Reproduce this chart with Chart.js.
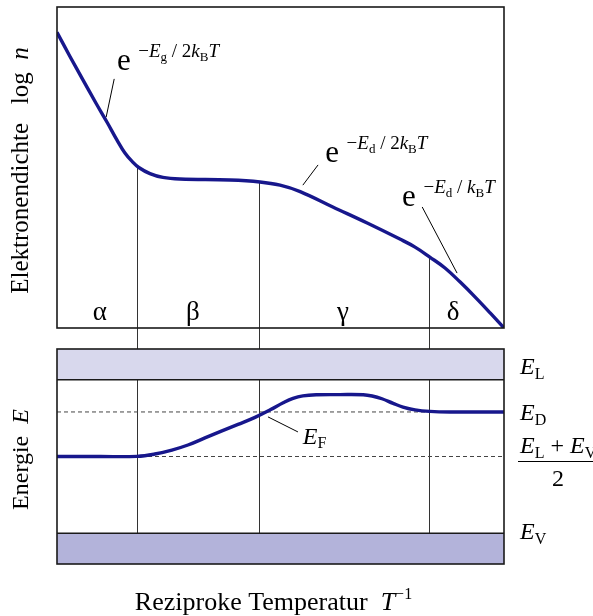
<!DOCTYPE html>
<html>
<head>
<meta charset="utf-8">
<script src="https://cdn.jsdelivr.net/npm/chart.js@4/dist/chart.umd.min.js"></script>
<style>
  html, body { margin: 0; padding: 0; background: #fff; }
  canvas { display: block; }
</style>
</head>
<body>
<canvas id="chart" width="593" height="616"></canvas>
<script>
// Reciprocal temperature T^-1 in arbitrary units (left = hot, right = cold)
const invTemp = [0, 0.29, 0.58, 0.87, 1.12, 1.34, 1.52, 1.68, 1.83, 2.08, 2.37, 2.75, 3.87,
                 4.54, 4.99, 5.44, 6.17, 6.94, 7.67, 8.01, 8.34, 8.68, 9.02, 9.35, 9.69, 10];
// log of the electron density (arbitrary units)
const logDensity = [9.21, 8.46, 7.73, 7.01, 6.41, 5.86, 5.45, 5.19, 5.00, 4.81, 4.69, 4.64, 4.61,
                    4.55, 4.45, 4.25, 3.77, 3.27, 2.77, 2.52, 2.21, 1.87, 1.43, 0.97, 0.47, 0.0];

// Fermi level position, energy in units of the gap (E_V = 0, E_L = 1)
const fermiInvTemp = [0, 0.96, 1.79, 2.19, 2.57, 2.93, 3.31, 3.69, 4.05, 4.43, 4.77, 5.06, 5.28,
                      5.50, 5.82, 6.33, 6.85, 7.05, 7.27, 7.52, 7.74, 8.01, 8.34, 8.79, 10];
const fermiEnergy = [0.50, 0.50, 0.501, 0.516, 0.542, 0.575, 0.621, 0.667, 0.709, 0.755, 0.804, 0.850, 0.879,
                     0.895, 0.902, 0.903, 0.902, 0.894, 0.876, 0.846, 0.822, 0.804, 0.794, 0.79, 0.79];

// Characteristic energies
const E_V = 0.0;
const E_L = 1.0;
const E_D = 0.79;
const E_MID = (E_L + E_V) / 2;

// Temperature regions
const regionBounds = [1.79, 4.52, 8.32];
const regionNames = ['α', 'β', 'γ', 'δ'];
const regionLabelX = [0.96, 3.04, 6.40, 8.86];

const X_MIN = 0, X_MAX = 10;

const NAVY = '#17178c';
const FRAME = '#1a1a1a';
const SERIF = '"Liberation Serif", "Times New Roman", serif';

const pts = (xs, ys) => xs.map((x, i) => ({ x, y: ys[i] }));
const level = (v) => [{ x: X_MIN, y: v }, { x: X_MAX, y: v }];

function font(size, italic) {
  return (italic ? 'italic ' : '') + size + 'px ' + SERIF;
}

// runs: [text, size, italic, dy]
function drawRuns(ctx, runs, x, y, align) {
  let w = 0;
  for (const r of runs) { ctx.font = font(r[1], r[2]); w += ctx.measureText(r[0]).width; }
  let cx = align === 'center' ? x - w / 2 : x;
  ctx.textAlign = 'left';
  ctx.textBaseline = 'alphabetic';
  for (const r of runs) {
    ctx.font = font(r[1], r[2]);
    ctx.fillText(r[0], cx, y + (r[3] || 0));
    cx += ctx.measureText(r[0]).width;
  }
  return w;
}

function valueAt(xs, ys, x) {
  for (let i = 1; i < xs.length; i++) {
    if (x <= xs[i]) {
      const t = (x - xs[i - 1]) / (xs[i] - xs[i - 1]);
      return ys[i - 1] + t * (ys[i] - ys[i - 1]);
    }
  }
  return ys[ys.length - 1];
}

// Exponential-law annotations on the density curve
const SUP = 19, SUB = 13, BIG = 31, UP = -13, DN = -9;
function expRuns(sub, twoKT) {
  const r = [['e', BIG, false, 0], ['\u2009\u2009', SUP, false, 0], ['\u2212', SUP, false, UP],
             ['E', SUP, true, UP], [sub, SUB, false, DN], [' / ', SUP, false, UP]];
  if (twoKT) r.push(['2', SUP, false, UP]);
  r.push(['k', SUP, true, UP], ['B', SUB, false, DN], ['T', SUP, true, UP]);
  return r;
}
const densityNotes = [
  { runs: expRuns('g', true),  at: [1.34, 8.04], from: [1.28, 7.76], to: [1.10, 6.57] },
  { runs: expRuns('d', true),  at: [6.00, 5.17], from: [5.84, 5.08], to: [5.50, 4.45] },
  { runs: expRuns('d', false), at: [7.72, 3.80], from: [8.17, 3.77], to: [8.95, 1.71] }
];

const decorations = {
  id: 'decorations',
  beforeDatasetsDraw(chart) {
    const { ctx, scales } = chart;
    const x = scales.x, yT = scales.yTop, yB = scales.yBot;
    ctx.save();
    ctx.strokeStyle = '#333';
    ctx.lineWidth = 1;
    for (const b of regionBounds) {
      const px = Math.round(x.getPixelForValue(b)) + 0.5;
      ctx.beginPath();
      ctx.moveTo(px, yT.getPixelForValue(valueAt(invTemp, logDensity, b)));
      ctx.lineTo(px, yB.getPixelForValue(E_V));
      ctx.stroke();
    }
    ctx.restore();
  },
  afterDatasetsDraw(chart) {
    const { ctx, chartArea, scales } = chart;
    const x = scales.x, yT = scales.yTop, yB = scales.yBot;
    const L = chartArea.left, R = chartArea.right;
    ctx.save();
    // panel frames
    ctx.strokeStyle = FRAME;
    ctx.lineWidth = 1.6;
    ctx.strokeRect(L, yT.top, R - L, yT.bottom - yT.top);
    ctx.strokeRect(L, yB.top, R - L, yB.bottom - yB.top);

    ctx.fillStyle = '#000';
    // region letters
    regionNames.forEach((g, i) => {
      drawRuns(ctx, [[g, 27, false, 0]], x.getPixelForValue(regionLabelX[i]), yT.getPixelForValue(0.25), 'center');
    });

    // exponential laws with pointer lines
    ctx.strokeStyle = '#000';
    ctx.lineWidth = 1;
    for (const n of densityNotes) {
      drawRuns(ctx, n.runs, x.getPixelForValue(n.at[0]), yT.getPixelForValue(n.at[1]), 'left');
      ctx.beginPath();
      ctx.moveTo(x.getPixelForValue(n.from[0]), yT.getPixelForValue(n.from[1]));
      ctx.lineTo(x.getPixelForValue(n.to[0]), yT.getPixelForValue(n.to[1]));
      ctx.stroke();
    }

    // Fermi level label
    ctx.beginPath();
    ctx.moveTo(x.getPixelForValue(4.72), yB.getPixelForValue(0.758));
    ctx.lineTo(x.getPixelForValue(5.39), yB.getPixelForValue(0.660));
    ctx.stroke();
    drawRuns(ctx, [['E', 24, true, 0], ['F', 16, false, 4]], x.getPixelForValue(5.50), yB.getPixelForValue(0.58), 'left');

    // energy levels on the right
    const rx = R + 16;
    drawRuns(ctx, [['E', 24, true, 0], ['L', 16, false, 5]], rx, yB.getPixelForValue(E_L + 0.04), 'left');
    drawRuns(ctx, [['E', 24, true, 0], ['D', 16, false, 5]], rx, yB.getPixelForValue(E_D - 0.05), 'left');
    drawRuns(ctx, [['E', 24, true, 0], ['V', 16, false, 5]], rx, yB.getPixelForValue(E_V - 0.04), 'left');
    const numY = yB.getPixelForValue(E_MID + 0.02);
    const w = drawRuns(ctx, [['E', 24, true, 0], ['L', 16, false, 5], [' + ', 24, false, 0],
                             ['E', 24, true, 0], ['V', 16, false, 5]], rx, numY, 'left');
    const barY = Math.round(yB.getPixelForValue(E_MID)) + 4.5;
    ctx.beginPath();
    ctx.moveTo(rx - 2, barY);
    ctx.lineTo(rx + w + 2, barY);
    ctx.stroke();
    drawRuns(ctx, [['2', 24, false, 0]], rx + w / 2, barY + 24, 'center');

    // axis titles
    ctx.save();
    ctx.translate(28, (yT.top + yT.bottom) / 2 + 3);
    ctx.rotate(-Math.PI / 2);
    drawRuns(ctx, [['Elektronendichte   log  ', 25, false, 0], ['n', 25, true, 0]], 0, 0, 'center');
    ctx.restore();
    ctx.save();
    ctx.translate(28, (yB.top + yB.bottom) / 2 + 3);
    ctx.rotate(-Math.PI / 2);
    drawRuns(ctx, [['Energie  ', 24, false, 0], ['E', 24, true, 0]], 0, 0, 'center');
    ctx.restore();
    drawRuns(ctx, [['Reziproke Temperatur  ', 26, false, 0], ['T', 26, true, 0], ['\u22121', 16, false, -11]],
             (L + R) / 2 - 7, 610, 'center');
    ctx.restore();
  }
};

const hiddenY = (weight, min, max) => ({
  type: 'linear', position: 'left', stack: 'panels', stackWeight: weight,
  min, max, offset: false,
  grid: { display: false }, border: { display: false }, ticks: { display: false },
  afterFit(s) { s.width = 57; }
});

new Chart(document.getElementById('chart'), {
  type: 'line',
  data: {
    datasets: [
      { label: 'log n', data: pts(invTemp, logDensity), yAxisID: 'yTop', order: 0,
        borderColor: NAVY, borderWidth: 3.4, pointRadius: 0, tension: 0.4, fill: false },
      { label: 'E_F', data: pts(fermiInvTemp, fermiEnergy), yAxisID: 'yBot', order: 0,
        borderColor: NAVY, borderWidth: 3.4, pointRadius: 0, tension: 0.4, fill: false },
      { label: 'E_D', data: level(E_D), yAxisID: 'yBot', order: 1,
        borderColor: '#444', borderWidth: 1, borderDash: [4, 3], pointRadius: 0, fill: false },
      { label: '(E_L+E_V)/2', data: level(E_MID), yAxisID: 'yBot', order: 1,
        borderColor: '#444', borderWidth: 1, borderDash: [4, 3], pointRadius: 0, fill: false },
      { label: 'Leitungsband', data: level(E_L), yAxisID: 'yBot', order: 2,
        borderColor: FRAME, borderWidth: 1.6, backgroundColor: '#d8d8ed', pointRadius: 0, fill: 'end' },
      { label: 'Valenzband', data: level(E_V), yAxisID: 'yBot', order: 2,
        borderColor: FRAME, borderWidth: 1.6, backgroundColor: '#b3b3da', pointRadius: 0, fill: 'start' }
    ]
  },
  options: {
    responsive: false,
    animation: false,
    devicePixelRatio: 1,
    layout: { padding: { top: 7, right: 89, left: 0, bottom: 0 } },
    plugins: { legend: { display: false }, tooltip: { enabled: false } },
    scales: {
      x: { type: 'linear', min: X_MIN, max: X_MAX, position: 'bottom',
           grid: { display: false }, border: { display: false }, ticks: { display: false },
           afterFit(s) { s.height = 52; } },
      // stacked panels are laid out bottom-up in definition order
      yBot: hiddenY(215, -0.2, 1.2),
      yGap: hiddenY(21, 0, 1),
      yTop: hiddenY(321, 0, 10)
    }
  },
  plugins: [decorations]
});
</script>
</body>
</html>
